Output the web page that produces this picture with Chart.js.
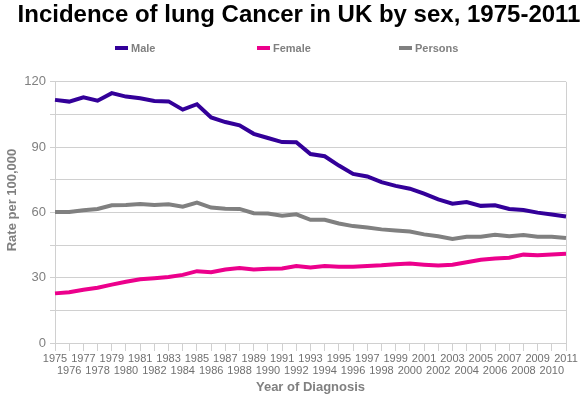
<!DOCTYPE html>
<html>
<head>
<meta charset="utf-8">
<script src="https://cdn.jsdelivr.net/npm/chart.js@4/dist/chart.umd.min.js"></script>
<style>
  html, body { margin: 0; padding: 0; background: #fff; }
  #wrap { width: 584px; height: 397px; }
</style>
</head>
<body>
<div id="wrap"><canvas id="chart" width="584" height="397"></canvas></div>
<script>
// years on the x axis
var years = []
for (var y = 1975; y <= 2011; y++) years.push(y)

// rates per 100,000
var male = [111.7, 110.9, 112.9, 111.3, 114.8, 113.2, 112.4, 111.2, 111.0, 107.2,
            109.7, 103.6, 101.5, 100.0, 96.1, 94.2, 92.3, 92.2, 86.8, 85.8,
            81.5, 77.7, 76.5, 73.9, 72.2, 70.9, 68.6, 66.0, 64.0, 64.8,
            63.0, 63.3, 61.6, 61.1, 59.9, 59.0, 58.1]
var female = [22.8, 23.3, 24.5, 25.4, 26.8, 28.1, 29.3, 29.8, 30.3, 31.3,
              33.0, 32.5, 33.8, 34.4, 33.8, 34.1, 34.2, 35.4, 34.7, 35.4,
              35.0, 35.0, 35.4, 35.7, 36.2, 36.5, 36.0, 35.6, 36.0, 37.1,
              38.2, 38.8, 39.2, 40.6, 40.3, 40.7, 41.0]
var persons = [60.2, 60.2, 61.0, 61.6, 63.3, 63.4, 63.9, 63.4, 63.7, 62.6,
               64.5, 62.2, 61.7, 61.6, 59.6, 59.5, 58.5, 59.1, 56.6, 56.6,
               54.9, 53.7, 53.1, 52.2, 51.7, 51.2, 49.9, 49.0, 47.8, 48.8,
               48.8, 49.7, 49.0, 49.6, 48.8, 48.8, 48.2]

var seriesNames = ['Male', 'Female', 'Persons']
var seriesColors = ['#330099', '#EC008C', '#808080']
var yTicks = [0, 30, 60, 90, 120]
var yTitle = 'Rate per 100,000'

var grey = '#808080'
var gridGrey = '#d0d0d0'
var fontFam = 'Liberation Sans, Arial, sans-serif'

// odd positions go on a second row, like the Excel chart
var xLabels = years.map(function (yr, i) {
    return i % 2 === 0 ? [String(yr)] : ['', String(yr)]
})

var allData = [male, female, persons]
var datasets = seriesNames.map(function (name, i) {
    return {
        label: name,
        data: allData[i],
        borderColor: seriesColors[i],
        backgroundColor: seriesColors[i],
        borderWidth: 4,
        pointRadius: 0,
        tension: 0,
        fill: false
    }
})

var lastIdx = years.length - 1

// legend items are spread wide apart in the original, so draw them here,
// plus the y title which sits above the middle of the axis
var extras = {
    id: 'extras',
    afterLayout: function (chart) {
        // title sits a bit right of centre in the original
        if (chart.titleBlock) {
            chart.titleBlock.left += 7
            chart.titleBlock.right += 7
        }
    },
    afterDraw: function (chart) {
        var ctx = chart.ctx
        var startX = 115, step = 142, midY = 48
        ctx.save()
        ctx.font = 'bold 11px ' + fontFam
        ctx.textBaseline = 'middle'
        ctx.textAlign = 'left'
        chart.data.datasets.forEach(function (ds, i) {
            var x = startX + step * i
            ctx.fillStyle = ds.borderColor
            ctx.fillRect(x, midY - 2, 13, 4)
            ctx.fillStyle = grey
            ctx.fillText(ds.label, x + 16, midY + 1)
        })
        ctx.translate(12, 200)
        ctx.rotate(-Math.PI / 2)
        ctx.textAlign = 'center'
        ctx.font = 'bold 13px ' + fontFam
        ctx.fillText(yTitle, 0, 0)
        ctx.restore()
    }
}

new Chart(document.getElementById('chart'), {
    type: 'line',
    data: { labels: xLabels, datasets: datasets },
    plugins: [extras],
    options: {
        responsive: false,
        animation: false,
        layout: { padding: { left: 0, right: 0, top: 0, bottom: 0 } },
        plugins: {
            title: {
                display: true,
                text: 'Incidence of lung Cancer in UK by sex, 1975-2011',
                color: '#000',
                font: { family: fontFam, size: 24, weight: 'bold' },
                padding: { top: 1, bottom: 52 }
            },
            legend: { display: false },
            tooltip: { enabled: false }
        },
        scales: {
            x: {
                offset: false,
                afterFit: function (s) {
                    s.height = 54
                    s.paddingRight = 18
                },
                grid: {
                    drawOnChartArea: true,
                    color: function (ctx) { return ctx.index === lastIdx ? gridGrey : 'rgba(0,0,0,0)' },
                    tickColor: gridGrey,
                    tickLength: 8
                },
                border: { color: gridGrey },
                ticks: {
                    autoSkip: false,
                    maxRotation: 0,
                    minRotation: 0,
                    color: '#707070',
                    padding: 2,
                    font: { family: fontFam, size: 11, lineHeight: 1.1 }
                },
                title: {
                    display: true,
                    text: 'Year of Diagnosis',
                    color: grey,
                    font: { family: fontFam, size: 13, weight: 'bold' },
                    padding: { top: 2, bottom: 2 }
                }
            },
            y: {
                min: 0,
                max: 120,
                afterFit: function (s) { s.width = 55 },
                grid: { color: gridGrey, tickLength: 5 },
                border: { color: gridGrey },
                ticks: {
                    stepSize: 15,
                    color: grey,
                    padding: 4,
                    font: { family: fontFam, size: 13 },
                    callback: function (v) { return yTicks.indexOf(v) >= 0 ? v : '' }
                },
                title: { display: false }
            }
        }
    }
})
</script>
</body>
</html>
